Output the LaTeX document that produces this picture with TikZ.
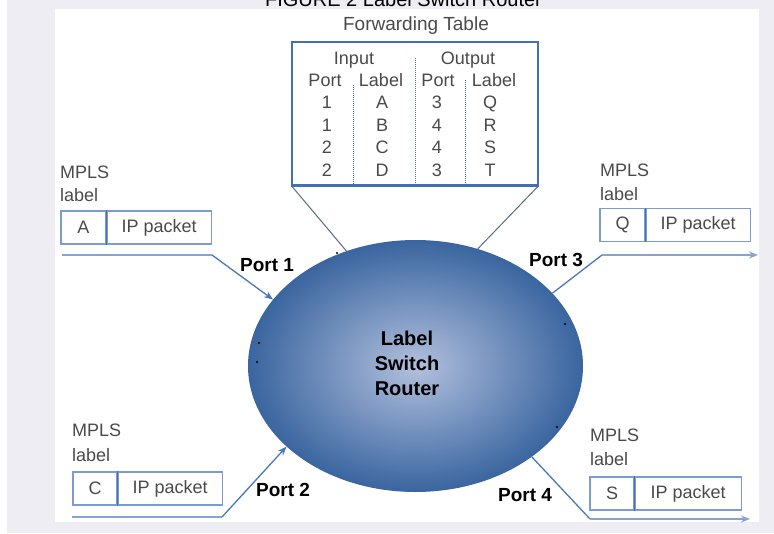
\documentclass[tikz,border=0pt]{standalone}
\usepackage{fontspec}
\setmainfont{Liberation Sans}
\usetikzlibrary{shapes.geometric,arrows.meta,positioning}
\definecolor{bggray}{HTML}{EEEDF3}
\definecolor{tblue}{HTML}{4570B0}
\definecolor{cblue}{HTML}{4A78B8}
\definecolor{lblue}{HTML}{7C9CD0}
\definecolor{hblue}{HTML}{8AA2D2}
\definecolor{txtgray}{HTML}{4A4A4A}
\definecolor{lsrin}{HTML}{B2C0DD}
\definecolor{lsrout}{HTML}{3A659F}
\definecolor{fungray}{HTML}{5A6A8A}
\tikzset{
  tabtxt/.style={font=\fontsize{18}{18}\selectfont, text=txtgray, inner sep=0pt, anchor=base},
  mplstxt/.style={font=\fontsize{18}{18}\selectfont, text=txtgray, inner sep=0pt, anchor=west},
  porttxt/.style={font=\fontsize{19}{19}\selectfont\bfseries, inner sep=0pt, anchor=base},
  cell/.style={draw=lblue, line width=1.2pt, minimum height=33pt, inner sep=0pt,
               font=\fontsize{18}{18}\selectfont, text=txtgray},
  hline/.style={draw=hblue, line width=1.8pt},
  conn/.style={draw=cblue, line width=1.3pt},
  arr/.style={-{Stealth[length=9pt,width=7pt]}},
  funnel/.style={draw=fungray, line width=1pt},
  divline/.style={draw=tblue, line width=1pt, densely dotted}
}
\begin{document}
\begin{tikzpicture}[x=1pt,y=-1pt]
\useasboundingbox (0,0) rectangle (774,533);
% background
\fill[white] (0,0) rectangle (774,533);
\fill[bggray] (7,0) rectangle (774,533);
\fill[white] (55,9) rectangle (759,522);
% title (cut off at the top)
\begin{scope}
  \clip (0,0) rectangle (774,9);
  \node[font=\fontsize{20}{20}\selectfont, anchor=base, inner sep=0pt] (title) at (403.5,6) {FIGURE 2 Label Switch Router};
\end{scope}
% forwarding table
\node[font=\fontsize{19}{19}\selectfont, text=txtgray, anchor=base, inner sep=0pt] (ftitle) at (416,30) {Forwarding Table};
\node[draw=tblue, line width=1.3pt, minimum width=246pt, minimum height=143pt, inner sep=0pt] (table) at (415,113.5) {};
\draw[tblue, line width=2.5pt] (table.south west) -- (table.south east);
\coordinate (d1t) at (353,85);  \coordinate (d1b) at (353,185);
\coordinate (d2t) at (415,58);  \coordinate (d2b) at (415,185);
\coordinate (d3t) at (465,80);  \coordinate (d3b) at (465,185);
\draw[divline] (d1t) -- (d1b);
\draw[divline] (d2t) -- (d2b);
\draw[divline] (d3t) -- (d3b);
\node[tabtxt] (hin) at (354,64) {Input};
\node[tabtxt] (hout) at (468,64) {Output};
\node[tabtxt] (hp1) at (325,86) {Port};
\node[tabtxt] (hl1) at (381,86) {Label};
\node[tabtxt] (hp2) at (438,86) {Port};
\node[tabtxt] (hl2) at (494,86) {Label};
\node[tabtxt] (r1a) at (327,108.5) {1};
\node[tabtxt] (r1b) at (382,108.5) {A};
\node[tabtxt] (r1c) at (437,108.5) {3};
\node[tabtxt] (r1d) at (490,108.5) {Q};
\node[tabtxt] (r2a) at (327,131) {1};
\node[tabtxt] (r2b) at (382,131) {B};
\node[tabtxt] (r2c) at (437,131) {4};
\node[tabtxt] (r2d) at (490,131) {R};
\node[tabtxt] (r3a) at (327,153.5) {2};
\node[tabtxt] (r3b) at (382,153.5) {C};
\node[tabtxt] (r3c) at (437,153.5) {4};
\node[tabtxt] (r3d) at (490,153.5) {S};
\node[tabtxt] (r4a) at (327,176) {2};
\node[tabtxt] (r4b) at (382,176) {D};
\node[tabtxt] (r4c) at (437,176) {3};
\node[tabtxt] (r4d) at (490,176) {T};
% router
\node[ellipse, minimum width=335pt, minimum height=252pt, inner sep=0pt,
      inner color=lsrin, outer color=lsrout] (lsr) at (415.5,366) {};
\node[font=\fontsize{20}{25}\selectfont\bfseries, align=center, inner sep=0pt] (lsrlabel) at (407,363) {Label\\Switch\\Router};
\foreach \px/\py in {337/253, 259/343, 257/362, 565/324, 557/427}
  \fill[black] (\px,\py) circle (1.1pt);
% funnel lines
\draw[funnel] (table.south west) -- (lsr.121);
\draw[funnel] (table.south east) -- (lsr.62);
% packet boxes
\node[cell, minimum width=45pt] (aL) at (83.5,227.5) {A};
\node[cell, minimum width=104pt, right=0pt of aL] (aP) {IP packet};
\draw[tblue, line width=1.2pt] (aL.north east) -- (aL.south east);
\node[cell, minimum width=45pt] (qL) at (622.5,225) {Q};
\node[cell, minimum width=104pt, right=0pt of qL] (qP) {IP packet};
\draw[tblue, line width=1.2pt] (qL.north east) -- (qL.south east);
\node[cell, minimum width=44pt] (cL) at (95,488.5) {C};
\node[cell, minimum width=104pt, right=0pt of cL] (cP) {IP packet};
\draw[tblue, line width=1.2pt] (cL.north east) -- (cL.south east);
\node[cell, minimum width=44pt] (sL) at (612,493.5) {S};
\node[cell, minimum width=106pt, right=0pt of sL] (sP) {IP packet};
\draw[tblue, line width=1.2pt] (sL.north east) -- (sL.south east);
% MPLS label texts
\node[mplstxt] (m1) at (60,172) {MPLS};
\node[mplstxt] (l1) at (60,195) {label};
\node[mplstxt] (m3) at (600,170) {MPLS};
\node[mplstxt] (l3) at (600,194) {label};
\node[mplstxt] (m2) at (72,430) {MPLS};
\node[mplstxt] (l2) at (72,455) {label};
\node[mplstxt] (m4) at (590,435) {MPLS};
\node[mplstxt] (l4) at (590,459) {label};
% ports
\node[porttxt] (port1) at (267,271) {Port 1};
\node[porttxt] (port3) at (556,266) {Port 3};
\node[porttxt] (port2) at (283,496) {Port 2};
\node[porttxt] (port4) at (525,501) {Port 4};
% connectors
\coordinate (p1s) at (62,255);
\coordinate (p1b) at (212,255);
\draw[hline] (p1s) -- (p1b);
\draw[conn, arr] (p1b) -- (lsr.155);
\coordinate (p3b) at (602,255);
\coordinate (p3e) at (758,255);
\draw[conn] (lsr.28) -- (p3b);
\draw[hline, arr] (p3b) -- (p3e);
\coordinate (p2s) at (72,517);
\coordinate (p2b) at (222,517);
\draw[hline] (p2s) -- (p2b);
\draw[conn, arr] (p2b) -- (lsr.212);
\coordinate (p4b) at (590,519);
\coordinate (p4e) at (750,519);
\draw[conn] (lsr.322) -- (p4b);
\draw[hline, arr] (p4b) -- (p4e);
\end{tikzpicture}
\end{document}
